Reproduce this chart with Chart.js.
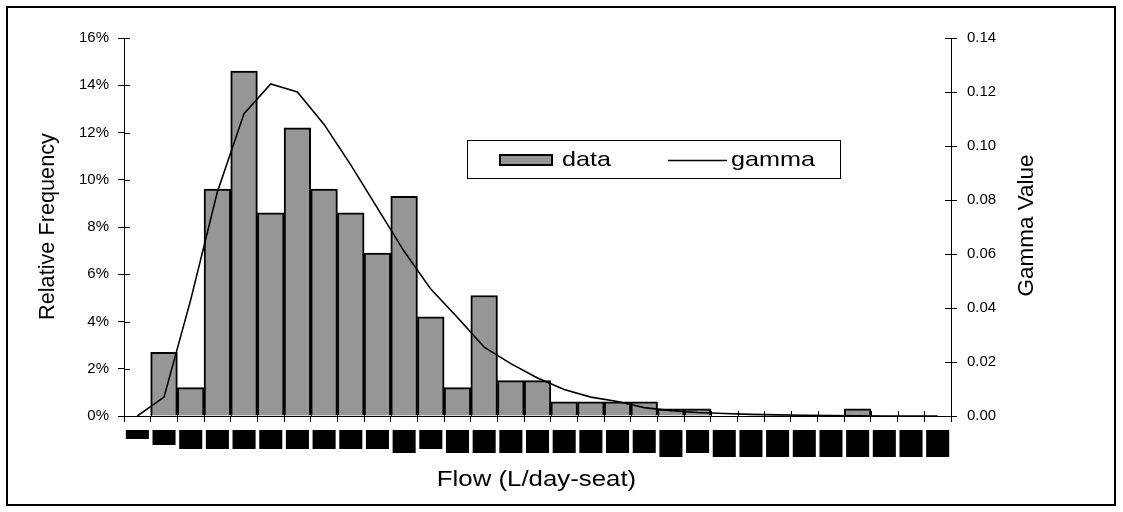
<!DOCTYPE html>
<html>
<head>
<meta charset="utf-8">
<script src="https://cdn.jsdelivr.net/npm/chart.js@4.4.1/dist/chart.umd.min.js"></script>
<style>
  html, body { margin: 0; padding: 0; background: #fff; }
  canvas { display: block; }
</style>
</head>
<body>
<canvas id="c" width="1123" height="512"></canvas>
<script>
// The category labels under the x axis are illegible in the reference (they render as
// solid black blocks). These are placeholder strings whose lengths reproduce the block sizes.
const categories = [
  '0', '0.0', '0.00', '0.00', '0.00', '0.00', '0.00', '0.00', '0.00', '0.00',
  '00.00', '00.0', '00.00', '00.00', '00.00', '00.00', '00.00', '00.00', '00.00', '00.00',
  '000.00', '000.0', '000.00', '000.00', '000.00', '000.00', '000.00', '000.00', '000.00', '000.00', '000.00'
];

// Relative frequency (%) per bin
const dataPct = [
  0, 2.7, 1.2, 9.6, 14.6, 8.6, 12.2, 9.6, 8.6, 6.9,
  9.3, 4.2, 1.2, 5.1, 1.5, 1.5, 0.6, 0.6, 0.6, 0.6,
  0.3, 0.3, 0, 0, 0, 0, 0, 0.3, 0, 0, 0
];

// Fitted gamma value per bin
const gammaVals = [
  0, 0.007, 0.043, 0.083, 0.112, 0.123, 0.120, 0.108, 0.093, 0.077,
  0.061, 0.047, 0.0365, 0.0255, 0.0194, 0.0141, 0.0098, 0.0070, 0.0054, 0.0031,
  0.0020, 0.0013, 0.0009, 0.0006, 0.0004, 0.0003, 0.0002, 0.0001, 0, 0, 0
];

const leftTickLabels = ['0%', '2%', '4%', '6%', '8%', '10%', '12%', '14%', '16%'];
const rightTickLabels = ['0.00', '0.02', '0.04', '0.06', '0.08', '0.10', '0.12', '0.14'];

const xTitle = 'Flow (L/day-seat)';
const yTitle = 'Relative Frequency';
const y1Title = 'Gamma Value';

const FONT = '"Liberation Sans", Arial, Helvetica, sans-serif';

const backgroundPlugin = {
  id: 'bg',
  beforeDraw(chart) {
    const ctx = chart.ctx;
    ctx.save();
    ctx.fillStyle = '#fff';
    ctx.fillRect(0, 0, chart.width, chart.height);
    ctx.restore();
  },
  afterDraw(chart) {
    const ctx = chart.ctx;
    ctx.save();
    ctx.strokeStyle = '#000';
    ctx.lineWidth = 2;
    ctx.strokeRect(7, 7, chart.width - 15, chart.height - 14);
    ctx.restore();
  }
};

const innerTicksPlugin = {
  id: 'innerTicks',
  afterDatasetsDraw(chart) {
    const ctx = chart.ctx;
    const area = chart.chartArea;
    ctx.save();
    ctx.strokeStyle = '#000';
    ctx.lineWidth = 1;
    const ys = chart.scales.y, y1s = chart.scales.y1, xs = chart.scales.x;
    ys.ticks.forEach(t => {
      const p = Math.round(ys.getPixelForValue(t.value)) + 0.5;
      ctx.beginPath(); ctx.moveTo(area.left, p); ctx.lineTo(area.left + 6, p); ctx.stroke();
    });
    y1s.ticks.forEach(t => {
      const p = Math.round(y1s.getPixelForValue(t.value)) + 0.5;
      ctx.beginPath(); ctx.moveTo(area.right - 6, p); ctx.lineTo(area.right, p); ctx.stroke();
    });
    for (let i = 0; i <= categories.length; i++) {
      const p = Math.round(xs.getPixelForValue(i - 0.5)) + 0.5;
      ctx.beginPath(); ctx.moveTo(p, area.bottom - 5); ctx.lineTo(p, area.bottom); ctx.stroke();
    }
    ctx.restore();
  }
};

const titlesPlugin = {
  id: 'titles',
  afterDraw(chart) {
    const ctx = chart.ctx;
    const area = chart.chartArea;
    const midY = (area.top + area.bottom) / 2;
    ctx.save();
    ctx.fillStyle = '#000';
    // x title (stretched like the reference)
    ctx.save();
    ctx.font = '21.5px ' + FONT;
    ctx.textAlign = 'center';
    ctx.textBaseline = 'alphabetic';
    ctx.translate((area.left + area.right) / 2 - 1, 486);
    ctx.scale(1.2, 1);
    ctx.fillText(xTitle, 0, 0);
    ctx.restore();
    // left y title
    ctx.save();
    ctx.font = '21.7px ' + FONT;
    ctx.textAlign = 'center';
    ctx.textBaseline = 'alphabetic';
    ctx.translate(53.5, midY - 0.5);
    ctx.rotate(-Math.PI / 2);
    ctx.fillText(yTitle, 0, 0);
    ctx.restore();
    // right y title
    ctx.save();
    ctx.font = '22.5px ' + FONT;
    ctx.textAlign = 'center';
    ctx.textBaseline = 'alphabetic';
    ctx.translate(1033, midY - 1.5);
    ctx.rotate(-Math.PI / 2);
    ctx.fillText(y1Title, 0, 0);
    ctx.restore();
    ctx.restore();
  }
};

const legendPlugin = {
  id: 'legendBox',
  afterDraw(chart) {
    const ctx = chart.ctx;
    const ds = chart.data.datasets;
    const bar = ds.find(d => d.type === 'bar');
    const line = ds.find(d => d.type === 'line');
    ctx.save();
    ctx.fillStyle = '#fff';
    ctx.fillRect(467, 140, 373, 38);
    ctx.strokeStyle = '#000';
    ctx.lineWidth = 1;
    ctx.strokeRect(467.5, 140.5, 373, 38);
    // bar swatch
    ctx.fillStyle = bar.backgroundColor;
    ctx.fillRect(499, 154, 54, 12);
    ctx.lineWidth = 2;
    ctx.strokeStyle = bar.borderColor;
    ctx.strokeRect(500, 155, 52, 10);
    // line swatch
    ctx.beginPath();
    ctx.lineWidth = line.borderWidth;
    ctx.strokeStyle = line.borderColor;
    ctx.moveTo(668, 160.5); ctx.lineTo(727, 160.5); ctx.stroke();
    // texts
    ctx.fillStyle = '#000';
    ctx.font = '21px ' + FONT;
    ctx.textAlign = 'left';
    ctx.textBaseline = 'alphabetic';
    ctx.save(); ctx.translate(562, 166); ctx.scale(1.2, 1); ctx.fillText(bar.label, 0, 0); ctx.restore();
    ctx.save(); ctx.translate(731, 166); ctx.scale(1.2, 1); ctx.fillText(line.label, 0, 0); ctx.restore();
    ctx.restore();
  }
};

new Chart(document.getElementById('c'), {
  data: {
    labels: categories,
    datasets: [
      {
        type: 'line',
        label: 'gamma',
        data: gammaVals,
        yAxisID: 'y1',
        borderColor: '#000',
        borderWidth: 1.6,
        pointRadius: 0,
        tension: 0,
        fill: false,
        order: 1
      },
      {
        type: 'bar',
        label: 'data',
        data: dataPct,
        yAxisID: 'y',
        backgroundColor: '#969696',
        borderColor: '#000',
        borderWidth: 2,
        barPercentage: 1,
        categoryPercentage: 1,
        order: 2
      }
    ]
  },
  options: {
    responsive: false,
    animation: false,
    devicePixelRatio: 1,
    layout: { padding: { left: 0, right: 0, top: 38, bottom: 0 } },
    plugins: { legend: { display: false }, tooltip: { enabled: false } },
    scales: {
      x: {
        type: 'category',
        offset: true,
        grid: { offset: true, drawOnChartArea: false, drawTicks: true, tickLength: 6, color: '#000', lineWidth: 1 },
        border: { display: true, color: '#000', width: 1 },
        ticks: {
          autoSkip: false, maxRotation: 90, minRotation: 90, padding: 10.5,
          color: '#000',
          font: { family: FONT, size: 7.2, lineHeight: 1.2 },
          showLabelBackdrop: true,
          backdropColor: '#000',
          backdropPadding: { left: 2.5, right: 2.5, top: 11.5, bottom: 2.9 }
        },
        afterFit(s) { s.height = 96; }
      },
      y: {
        type: 'linear', position: 'left', min: 0, max: 16,
        grid: { drawOnChartArea: false, drawTicks: true, tickLength: 6, color: '#000' },
        border: { display: true, color: '#000', width: 1 },
        ticks: { stepSize: 2, padding: 9, color: '#000', font: { family: FONT, size: 15 },
                 callback: (v, i) => leftTickLabels[i] },
        afterFit(s) { s.width = 124; }
      },
      y1: {
        type: 'linear', position: 'right', min: 0, max: 0.14,
        grid: { drawOnChartArea: false, drawTicks: true, tickLength: 6, color: '#000' },
        border: { display: true, color: '#000', width: 1 },
        ticks: { stepSize: 0.02, padding: 10, color: '#000', font: { family: FONT, size: 15 },
                 callback: (v, i) => rightTickLabels[i] },
        afterFit(s) { s.width = 172; }
      }
    }
  },
  plugins: [backgroundPlugin, innerTicksPlugin, titlesPlugin, legendPlugin]
});
</script>
</body>
</html>
